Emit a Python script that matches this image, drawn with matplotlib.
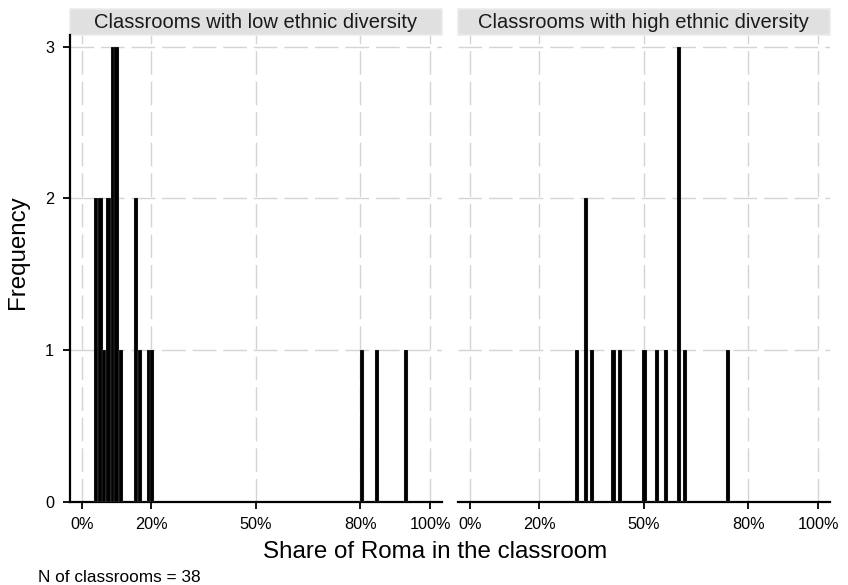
import matplotlib
matplotlib.use('Agg')
import matplotlib.pyplot as plt
from matplotlib.patches import Rectangle

plt.rcParams['font.family'] = ['Liberation Sans', 'DejaVu Sans']
plt.rcParams['lines.scale_dashes'] = False

panel_titles = ['Classrooms with low ethnic diversity', 'Classrooms with high ethnic diversity']

# share of Roma (bar centre) and frequency
low_share = [0.042, 0.054, 0.065, 0.077, 0.089, 0.100, 0.112, 0.156, 0.167, 0.192, 0.202, 0.805, 0.848, 0.930]
low_freq = [2, 2, 1, 2, 3, 3, 1, 2, 1, 1, 1, 1, 1, 1]
high_share = [0.307, 0.333, 0.351, 0.413, 0.431, 0.502, 0.538, 0.564, 0.600, 0.617, 0.741]
high_freq = [1, 2, 1, 1, 1, 1, 1, 1, 3, 1, 1]

x_ticks = [0, 0.2, 0.5, 0.8, 1.0]
x_labels = ['0%', '20%', '50%', '80%', '100%']
y_ticks = [0, 1, 2, 3]
n_classrooms = 38
bin_w = 0.0118

W, H = 848, 585
fig = plt.figure(figsize=(W / 100, H / 100), dpi=100)

ax_top, ax_bot = 35, 502
bottom = (H - ax_bot) / H
height = (ax_bot - ax_top) / H
ax_low = fig.add_axes([69.5 / W, bottom, 372 / W, height])
ax_high = fig.add_axes([457.5 / W, bottom, 372 / W, height])

data = [(ax_low, low_share, low_freq), (ax_high, high_share, high_freq)]
for i, (ax, share, freq) in enumerate(data):
	ax.bar(share, freq, width=bin_w, color='black', edgecolor='#bbbbbb', linewidth=0.15, zorder=3)
	ax.set_xlim(-0.035, 1.033)
	ax.set_ylim(0, 3.077)
	ax.set_xticks(x_ticks)
	ax.set_xticklabels(x_labels, fontsize=11.7)
	ax.set_axisbelow(True)
	ax.grid(True, color='#d4d4d4', linewidth=1.0, dashes=(17, 5))
	for s in ['top', 'right']:
		ax.spines[s].set_visible(False)
	ax.spines['bottom'].set_linewidth(1.6)
	ax.spines['left'].set_linewidth(1.6)
	ax.tick_params(axis='both', length=5, width=1.3, pad=6, colors='black')
	ax.set_yticks(y_ticks)
	if i == 0:
		ax.set_yticklabels([str(v) for v in y_ticks], fontsize=11.7)
	else:
		ax.spines['left'].set_visible(False)
		ax.tick_params(axis='y', left=False, labelleft=False)

	# facet strip
	strip_h = 26 / (ax_bot - ax_top)
	ax.add_patch(Rectangle((0, 1.0), 1, strip_h, transform=ax.transAxes, clip_on=False,
		facecolor='#e0e0e0', edgecolor='#ececec', linewidth=1.2, zorder=1))
	ax.text(0.5, 1.0 + strip_h / 2, panel_titles[i], transform=ax.transAxes,
		ha='center', va='center', fontsize=14.5, color='#1a1a1a')

fig.text(435.5 / W, 1 - 558 / H, 'Share of Roma in the classroom', ha='center', va='baseline', fontsize=17.4)
fig.text(18 / W, 1 - 252 / H, 'Frequency', ha='center', va='center', rotation=90, fontsize=17.4)
fig.text(38 / W, 1 - 581.5 / H, f'N of classrooms = {n_classrooms}', ha='left', va='baseline', fontsize=12.4)

fig.savefig('out.png', dpi=100, facecolor='white')
